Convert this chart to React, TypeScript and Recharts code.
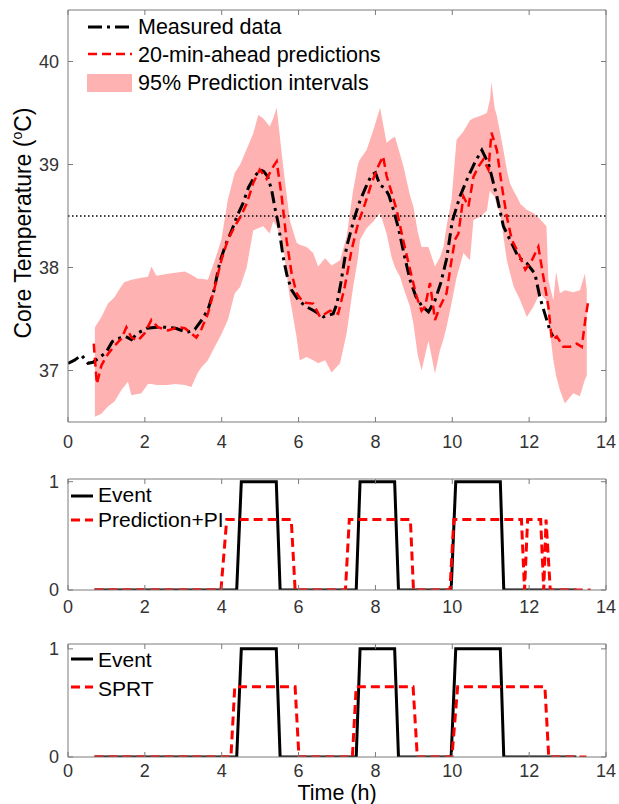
import { ComposedChart, Line, Area, XAxis, YAxis, ReferenceLine } from "recharts";

// shared axis settings
const xTicks = [0, 2, 4, 6, 8, 10, 12, 14];
const tempTicks = [37, 38, 39, 40];
const flagTicks = [0, 1];
const threshold = 38.5;

// measured core temperature
const measT = [0, 0.17, 0.35, 0.52, 0.65, 0.8, 1.0, 1.15, 1.3, 1.5, 1.65, 1.8, 2.05, 2.3, 2.55, 2.8, 3.1, 3.3, 3.5, 3.65, 3.8, 3.95, 4.1, 4.25, 4.4, 4.55, 4.7, 4.85, 5.0, 5.1, 5.2, 5.3, 5.4, 5.47, 5.6, 5.7, 5.82, 6.0, 6.2, 6.4, 6.65, 6.9, 7.0, 7.1, 7.25, 7.45, 7.6, 7.75, 7.9, 8.0, 8.12, 8.25, 8.35, 8.47, 8.6, 8.75, 8.9, 9.05, 9.2, 9.38, 9.55, 9.7, 9.85, 10.0, 10.2, 10.4, 10.6, 10.77, 10.94, 11.05, 11.16, 11.33, 11.5, 11.72, 11.94, 12.15, 12.28, 12.41, 12.54, 12.62];
const measV = [37.07, 37.1, 37.15, 37.07, 37.08, 37.12, 37.18, 37.28, 37.31, 37.33, 37.3, 37.36, 37.41, 37.42, 37.42, 37.41, 37.37, 37.4, 37.5, 37.6, 37.78, 38.05, 38.22, 38.35, 38.5, 38.62, 38.78, 38.88, 38.95, 38.93, 38.88, 38.75, 38.55, 38.43, 38.1, 37.92, 37.78, 37.68, 37.62, 37.58, 37.52, 37.55, 37.65, 37.85, 38.2, 38.48, 38.65, 38.78, 38.9, 38.92, 38.8, 38.77, 38.7, 38.56, 38.38, 38.12, 37.88, 37.72, 37.63, 37.57, 37.68, 37.85, 38.08, 38.45, 38.69, 38.87, 39.03, 39.14, 39.01, 38.85, 38.69, 38.4, 38.27, 38.1, 38.04, 37.94, 37.71, 37.55, 37.39, 37.33];

// 20-min-ahead predictions
const predT = [0.67, 0.75, 0.87, 1.04, 1.21, 1.39, 1.52, 1.65, 1.82, 1.99, 2.17, 2.34, 2.6, 2.86, 3.04, 3.21, 3.34, 3.47, 3.64, 3.82, 3.99, 4.16, 4.34, 4.5, 4.65, 4.82, 4.99, 5.17, 5.34, 5.43, 5.56, 5.69, 5.82, 5.95, 6.12, 6.38, 6.56, 6.82, 7.03, 7.2, 7.38, 7.55, 7.73, 7.9, 8.07, 8.2, 8.29, 8.42, 8.55, 8.72, 8.9, 9.07, 9.2, 9.29, 9.42, 9.55, 9.68, 9.85, 9.98, 10.07, 10.16, 10.29, 10.42, 10.55, 10.68, 10.81, 10.94, 11.02, 11.16, 11.29, 11.42, 11.55, 11.72, 11.9, 12.07, 12.24, 12.37, 12.5, 12.59, 12.72, 12.89, 13.06, 13.24, 13.37, 13.46, 13.54];
const predV = [37.26, 36.87, 37.05, 37.16, 37.24, 37.31, 37.42, 37.32, 37.29, 37.36, 37.49, 37.42, 37.39, 37.42, 37.41, 37.36, 37.32, 37.4, 37.55, 37.81, 38.07, 38.27, 38.4, 38.5, 38.62, 38.82, 38.95, 38.86, 38.98, 39.03, 38.69, 38.26, 37.94, 37.75, 37.66, 37.65, 37.52, 37.58, 37.55, 37.81, 38.17, 38.43, 38.62, 38.82, 38.98, 39.08, 38.89, 38.73, 38.56, 38.27, 37.98, 37.72, 37.58, 37.62, 37.85, 37.49, 37.62, 37.75, 38.07, 38.27, 38.33, 38.69, 38.59, 38.88, 38.98, 39.05, 38.95, 39.31, 39.14, 38.79, 38.49, 38.27, 38.14, 37.98, 38.07, 38.2, 37.91, 37.62, 37.3, 37.33, 37.23, 37.23, 37.26, 37.23, 37.49, 37.68];

// 95% prediction interval
const bandT = [0.7, 0.87, 1.04, 1.21, 1.39, 1.47, 1.56, 1.65, 1.91, 2.08, 2.17, 2.3, 2.6, 2.78, 3.04, 3.21, 3.38, 3.47, 3.64, 3.82, 3.99, 4.16, 4.34, 4.48, 4.65, 4.82, 4.95, 5.08, 5.25, 5.34, 5.43, 5.6, 5.77, 5.95, 6.03, 6.21, 6.38, 6.51, 6.69, 6.86, 7.08, 7.25, 7.42, 7.55, 7.6, 7.77, 7.95, 8.12, 8.29, 8.42, 8.51, 8.64, 8.73, 8.9, 8.99, 9.1, 9.2, 9.38, 9.55, 9.68, 9.77, 9.85, 9.98, 10.11, 10.29, 10.46, 10.55, 10.72, 10.9, 10.98, 11.02, 11.1, 11.16, 11.25, 11.33, 11.42, 11.5, 11.6, 11.68, 11.77, 11.94, 12.11, 12.28, 12.45, 12.5, 12.63, 12.7, 12.8, 12.93, 13.15, 13.32, 13.45, 13.5];
const bandLo = [36.55, 36.58, 36.65, 36.7, 36.81, 36.85, 36.89, 36.76, 36.78, 36.87, 36.87, 36.86, 36.86, 36.87, 36.86, 36.84, 36.98, 37.03, 37.1, 37.23, 37.35, 37.49, 37.75, 37.81, 38.0, 38.36, 38.38, 38.4, 38.33, 38.45, 38.4, 38.2, 37.71, 37.32, 37.1, 37.13, 37.1, 37.07, 37.1, 36.98, 37.07, 37.36, 37.81, 38.1, 38.27, 38.38, 38.45, 38.53, 38.33, 38.1, 38.0, 37.91, 37.8, 37.62, 37.45, 37.15, 37.0, 37.29, 36.97, 37.2, 37.3, 37.42, 37.65, 37.9, 38.14, 38.07, 38.46, 38.49, 38.55, 38.75, 38.72, 38.69, 38.6, 38.53, 38.3, 38.07, 37.95, 37.81, 37.75, 37.68, 37.52, 37.62, 37.75, 37.68, 37.5, 37.1, 36.95, 36.81, 36.68, 36.78, 36.75, 36.91, 36.95];
const bandHi = [37.42, 37.52, 37.65, 37.71, 37.82, 37.86, 37.87, 37.88, 37.9, 37.91, 38.01, 37.92, 37.94, 37.95, 37.96, 37.93, 37.89, 37.89, 37.88, 38.07, 38.27, 38.66, 38.92, 39.0, 39.15, 39.3, 39.48, 39.45, 39.37, 39.45, 39.55, 38.98, 38.46, 38.24, 38.22, 38.2, 38.14, 38.01, 38.09, 38.02, 38.07, 38.3, 38.75, 39.01, 39.05, 39.14, 39.34, 39.55, 39.21, 39.25, 39.27, 39.1, 38.98, 38.7, 38.59, 38.35, 38.2, 38.2, 38.01, 38.1, 38.2, 38.4, 38.66, 39.24, 39.32, 39.43, 39.45, 39.47, 39.5, 39.63, 39.8, 39.55, 39.47, 39.3, 39.14, 38.95, 38.82, 38.74, 38.69, 38.62, 38.56, 38.53, 38.47, 38.4, 37.88, 37.68, 37.96, 37.75, 37.78, 37.76, 37.78, 37.94, 37.78];

// event flags
const eventT = [0.69, 4.39, 4.51, 5.42, 5.52, 7.5, 7.6, 8.5, 8.6, 9.97, 10.09, 11.25, 11.34, 13.23];
const eventV = [0, 0, 1, 1, 0, 0, 1, 1, 0, 0, 1, 1, 0, 0];
const piT = [0.69, 3.98, 4.13, 5.81, 5.91, 7.22, 7.32, 8.91, 8.99, 9.94, 10.04, 11.8, 11.88, 11.96, 12.3, 12.38, 12.44, 12.55, 13.6];
const piV = [0, 0, 0.65, 0.65, 0, 0, 0.65, 0.65, 0, 0, 0.65, 0.65, 0, 0.65, 0.65, 0, 0.65, 0, 0];
const sprtT = [0.69, 4.24, 4.34, 5.91, 6.01, 7.4, 7.5, 8.98, 9.09, 9.99, 10.14, 12.41, 12.51, 13.49];
const sprtV = [0, 0, 0.65, 0.65, 0, 0, 0.65, 0.65, 0, 0, 0.65, 0.65, 0, 0];

type Row = { t: number; [k: string]: number | number[] };

function merge(parts: { key: string; t: number[]; v: (number | number[])[] }[]) {
  const map = new Map<number, Row>();
  parts.forEach((p) =>
    p.t.forEach((t, i) => {
      const row = map.get(t) ?? { t };
      row[p.key] = p.v[i];
      map.set(t, row);
    })
  );
  return [...map.values()].sort((a, b) => a.t - b.t);
}

const topRows = merge([
  { key: "meas", t: measT, v: measV },
  { key: "pred", t: predT, v: predV },
  { key: "band", t: bandT, v: bandT.map((_, i) => [bandLo[i], bandHi[i]]) },
]);
const piRows = merge([
  { key: "event", t: eventT, v: eventV },
  { key: "flag", t: piT, v: piV },
]);
const sprtRows = merge([
  { key: "event", t: eventT, v: eventV },
  { key: "flag", t: sprtT, v: sprtV },
]);

const AXIS = "#7a7a7a";
const FONT = '"Liberation Sans", Arial, sans-serif';

type Side = "bottom" | "top" | "left" | "right";

// MATLAB-style inward tick mark, with an optional label; margin = gap between axis line and label
function makeTick(side: Side, margin: number, label: boolean) {
  return function Tick(props: any) {
    const { x, y, payload } = props;
    let l;
    if (side === "bottom") l = { x1: x, x2: x, y1: y - margin, y2: y - margin - 5 };
    else if (side === "top") l = { x1: x, x2: x, y1: y + margin, y2: y + margin + 5 };
    else if (side === "left") l = { x1: x + margin, x2: x + margin + 5, y1: y, y2: y };
    else l = { x1: x - margin, x2: x - margin - 5, y1: y, y2: y };
    return (
      <g>
        <line {...l} stroke={AXIS} strokeWidth={1} />
        {label && (
          <text x={x} y={y} dy={side === "bottom" ? "0.71em" : "0.355em"} textAnchor={side === "bottom" ? "middle" : "end"}
            fontSize={18} fill="#333">
            {payload.value}
          </text>
        )}
      </g>
    );
  };
}

function TempLabel() {
  return (
    <text x={31} y={223} transform="rotate(-90 31 223)" textAnchor="middle" fontSize={23} fill="#000">
      Core Temperature (<tspan dy={-9} fontSize={14}>o</tspan>
      <tspan dy={9}>C)</tspan>
    </text>
  );
}

// box with ticks on all four sides; top/right axes are 1px wide so they still render
function boxAxes(yDomain: number[], yTicks: number[], xMargin: number, xHeight: number, yKey: string, xLabel?: any, yLabel?: any) {
  return [
    <XAxis key="b" xAxisId="b" dataKey="t" type="number" domain={[0, 14]} ticks={xTicks} interval={0} allowDataOverflow
      stroke={AXIS} tickLine={false} tickSize={0} tickMargin={xMargin} tick={makeTick("bottom", xMargin, true)}
      height={xHeight} label={xLabel} />,
    <XAxis key="t" xAxisId="t" dataKey="t" orientation="top" type="number" domain={[0, 14]} ticks={xTicks} interval={0} allowDataOverflow
      stroke={AXIS} tickLine={false} tickSize={0} tickMargin={0} tick={makeTick("top", 0, false)} height={1} />,
    <YAxis key="l" yAxisId="l" type="number" domain={yDomain} ticks={yTicks} interval={0} allowDataOverflow
      stroke={AXIS} tickLine={false} tickSize={0} tickMargin={9} tick={makeTick("left", 9, true)} width={68} label={yLabel} />,
    <YAxis key="r" yAxisId="r" dataKey={yKey} orientation="right" type="number" domain={yDomain} ticks={yTicks} interval={0} allowDataOverflow
      stroke={AXIS} tickLine={false} tickSize={0} tickMargin={0} tick={makeTick("right", 0, false)} width={1} />,
  ];
}

function FlagPanel({ rows, top, height, marginTop, xHeight, xMargin, yMax, timeLabel }: {
  rows: Row[]; top: number; height: number; marginTop: number; xHeight: number; xMargin: number; yMax: number; timeLabel?: boolean;
}) {
  const xLabel = timeLabel ? { value: "Time (h)", position: "insideBottom", offset: 4.5, fontSize: 21.5, fill: "#000" } : undefined;
  return (
    <div style={{ position: "absolute", left: 0, top }}>
      <ComposedChart width={619} height={height} data={rows} margin={{ top: marginTop - 1, right: 12, bottom: 0, left: 0 }}>
        {boxAxes([0, yMax], flagTicks, xMargin, xHeight, "event", xLabel)}
        <Line xAxisId="b" yAxisId="l" type="linear" dataKey="event" stroke="#000" strokeWidth={3}
          dot={false} activeDot={false} connectNulls isAnimationActive={false} />
        <Line xAxisId="b" yAxisId="l" type="linear" dataKey="flag" stroke="#ff0000" strokeWidth={3} strokeDasharray="9 5"
          dot={false} activeDot={false} connectNulls isAnimationActive={false} />
      </ComposedChart>
    </div>
  );
}

export default function App() {
  return (
    <div style={{ position: "absolute", left: 0, top: 0, width: 619, height: 804, background: "#fff", fontFamily: FONT }}>
      <div style={{ position: "absolute", left: 0, top: 0 }}>
        <ComposedChart width={619} height={458} data={topRows} margin={{ top: 9, right: 12, bottom: 0, left: 0 }}>
          {boxAxes([36.5, 40.5], tempTicks, 13, 36, "meas", undefined, <TempLabel />)}
          <ReferenceLine xAxisId="b" yAxisId="l" y={threshold} stroke="#000" strokeWidth={1.5} strokeDasharray="1.5 2.5" />
          <Line xAxisId="b" yAxisId="l" type="linear" dataKey="meas" stroke="#000" strokeWidth={3} strokeDasharray="12 5 3 5"
            dot={false} activeDot={false} connectNulls isAnimationActive={false} />
          <Line xAxisId="b" yAxisId="l" type="linear" dataKey="pred" stroke="#ff0000" strokeWidth={2.5} strokeDasharray="9 5"
            dot={false} activeDot={false} connectNulls isAnimationActive={false} />
          <Area xAxisId="b" yAxisId="l" type="linear" dataKey="band" stroke="none" fill="#ff0000" fillOpacity={0.3}
            dot={false} activeDot={false} connectNulls isAnimationActive={false} />
        </ComposedChart>
      </div>

      <FlagPanel rows={piRows} top={460} height={160} marginTop={19} xHeight={30} xMargin={10} yMax={1.025} />
      <FlagPanel rows={sprtRows} top={625} height={179} marginTop={19} xHeight={47} xMargin={7} yMax={1.045} timeLabel />

      {/* legends */}
      <svg width={619} height={804} style={{ position: "absolute", left: 0, top: 0, pointerEvents: "none" }}>
        <g fontSize={21.5} fill="#000">
          <line x1={88} x2={132} y1={27} y2={27} stroke="#000" strokeWidth={3} strokeDasharray="14 5 3 5" />
          <text x={138} y={34}>Measured data</text>
          <line x1={88} x2={132} y1={54} y2={54} stroke="#ff0000" strokeWidth={2.5} strokeDasharray="9 5" />
          <text x={138} y={62}>20-min-ahead predictions</text>
          <rect x={87} y={74} width={45} height={18} fill="#ff0000" fillOpacity={0.3} />
          <text x={138} y={90}>95% Prediction intervals</text>
        </g>
        <g fontSize={21} fill="#000">
          <line x1={71} x2={93} y1={496} y2={496} stroke="#000" strokeWidth={3} />
          <text x={98} y={502}>Event</text>
          <line x1={71} x2={93} y1={520} y2={520} stroke="#ff0000" strokeWidth={3} strokeDasharray="9 5" />
          <text x={98} y={527}>Prediction+PI</text>

          <line x1={71} x2={93} y1={659} y2={659} stroke="#000" strokeWidth={3} />
          <text x={98} y={667}>Event</text>
          <line x1={71} x2={93} y1={687} y2={687} stroke="#ff0000" strokeWidth={3} strokeDasharray="9 5" />
          <text x={98} y={696}>SPRT</text>
        </g>
      </svg>
    </div>
  );
}
